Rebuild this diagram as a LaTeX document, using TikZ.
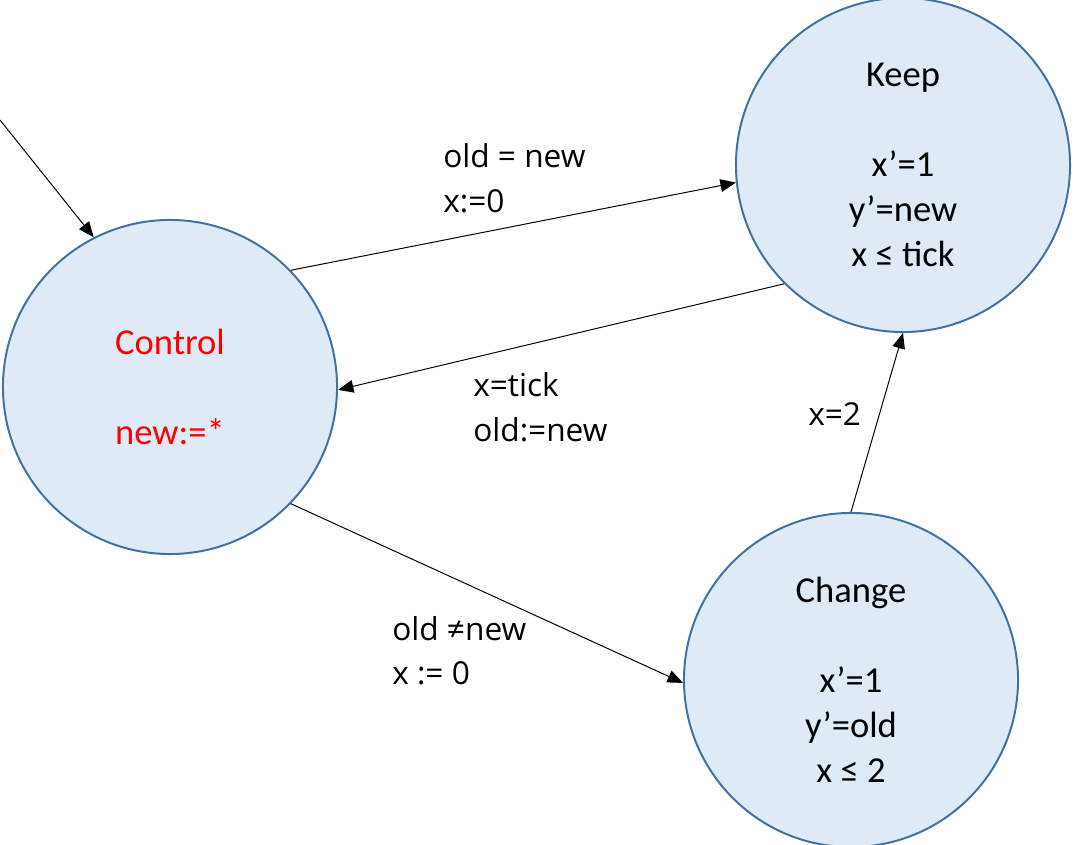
\documentclass[tikz,border=0pt]{standalone}
\usepackage{fontspec}
\setmainfont{Carlito}
\newfontfamily\guardfont{Open Sans}
\usetikzlibrary{positioning, arrows.meta}
\definecolor{stateFill}{HTML}{DEEBF7}
\definecolor{stateLine}{HTML}{41719C}
\definecolor{ctrlRed}{HTML}{FF0000}

\begin{document}
\begin{tikzpicture}[x=0.025cm,y=-0.025cm,
  state/.style={circle, draw=stateLine, fill=stateFill, line width=1.4pt, minimum size=8.35cm, inner sep=0pt, align=center, font=\fontsize{26}{32}\selectfont},
  trans/.style={-{Triangle[length=11pt,width=9pt]}, line width=0.7pt},
  guard/.style={anchor=base west, inner sep=0pt, align=left, font=\guardfont\fontsize{22.5}{32}\selectfont}]
\useasboundingbox (0,0) rectangle (1074,845);

\node[state, text=ctrlRed] (control) at (170,387) {Control\\ ~\\ new:=*};
\node[state] (keep) at (903,165) {Keep\\ ~\\ x’=1\\ y’=new\\ x ≤ tick};
\node[state] (change) at (851,680) {Change\\ ~\\ x’=1\\ y’=old\\ x ≤ 2};
\coordinate (init) at (0,120);

\draw[trans] (init) -- (control.117.8);
\draw[trans] (control.44) -- (keep.186);
\draw[trans] (keep.225) -- (control.-1);
\draw[trans] (change.90) -- (keep.-90);
\draw[trans] (control.-44.5) -- (change.181);

\node[guard] (g1) at (443,213) {old = new\\ x:=0};
\node[guard] (g2) at (473,442) {x=tick\\ old:=new};
\node[guard] (g3) at (808,426) {x=2};
\node[guard] (g4) at (392,685) {old ≠new\\ x := 0};
\end{tikzpicture}
\end{document}
